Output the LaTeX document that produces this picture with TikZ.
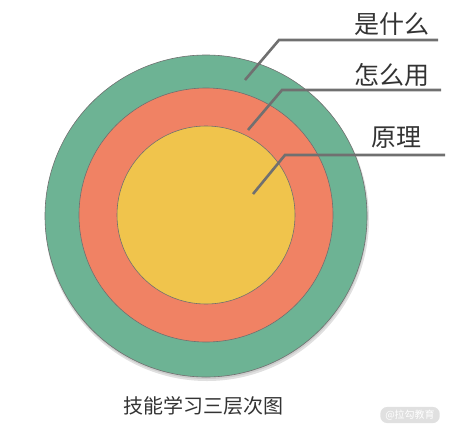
\documentclass[tikz,border=0pt]{standalone}
\usepackage{fontspec}
\newfontfamily\cjk{Noto Sans CJK SC}
\usetikzlibrary{calc}
\pgfdeclarelayer{background}
\pgfdeclarelayer{main}
\pgfdeclarelayer{foreground}
\pgfsetlayers{background,main,foreground}
\definecolor{ringgreen}{HTML}{6DB394}
\definecolor{ringorange}{HTML}{F08264}
\definecolor{ringyellow}{HTML}{F0C44C}
\definecolor{leadgray}{HTML}{707070}
\definecolor{textgray}{HTML}{333333}

\begin{document}
\begin{tikzpicture}[x=1pt,y=-1pt]
\useasboundingbox (0,0) rectangle (449,431);

\begin{pgfonlayer}{background}
%soft shadow under the outer ring
\fill[black!12] (207,219) circle (162);
\fill[black!20] (206.5,218) circle (161);
%rings
\draw [draw=leadgray, line width=.6pt, fill=ringgreen] (206,216) circle (161);
\draw [draw=leadgray, line width=.6pt, fill=ringorange] (206,215) circle (127);
\draw [draw=leadgray, line width=.6pt, fill=ringyellow] (206,215) circle (89);
\end{pgfonlayer}

%labels
\node [text=textgray, font=\cjk\fontsize{25}{25}\selectfont] (what) at (392,24) {是什么};
\node [text=textgray, font=\cjk\fontsize{25}{25}\selectfont] (how) at (392,75) {怎么用};
\node [text=textgray, font=\cjk\fontsize{25}{25}\selectfont] (why) at (396,138) {原理};

%leader lines
\coordinate (whatA) at (245,80);
\coordinate (whatB) at (279,40);
\coordinate (whatC) at (438,40);
\draw [line width=2.6pt, draw=leadgray] (whatA) -- (whatB) -- (whatC);
\coordinate (howA) at (248,130);
\coordinate (howB) at (282,90);
\coordinate (howC) at (441,90);
\draw [line width=2.6pt, draw=leadgray] (howA) -- (howB) -- (howC);
\coordinate (whyA) at (253,194);
\coordinate (whyB) at (285,155);
\coordinate (whyC) at (445,155);
\draw [line width=2.6pt, draw=leadgray] (whyA) -- (whyB) -- (whyC);

%caption
\node [text=textgray, font=\cjk\fontsize{20}{20}\selectfont] (caption) at (203,406) {技能学习三层次图};

%watermark
\node [fill=black!12, rounded corners=7pt, text=white, inner xsep=5pt, inner ysep=3pt,
  font=\cjk\fontsize{10}{10}\selectfont] (mark) at (410,415) {@拉勾教育};
\end{tikzpicture}
\end{document}
